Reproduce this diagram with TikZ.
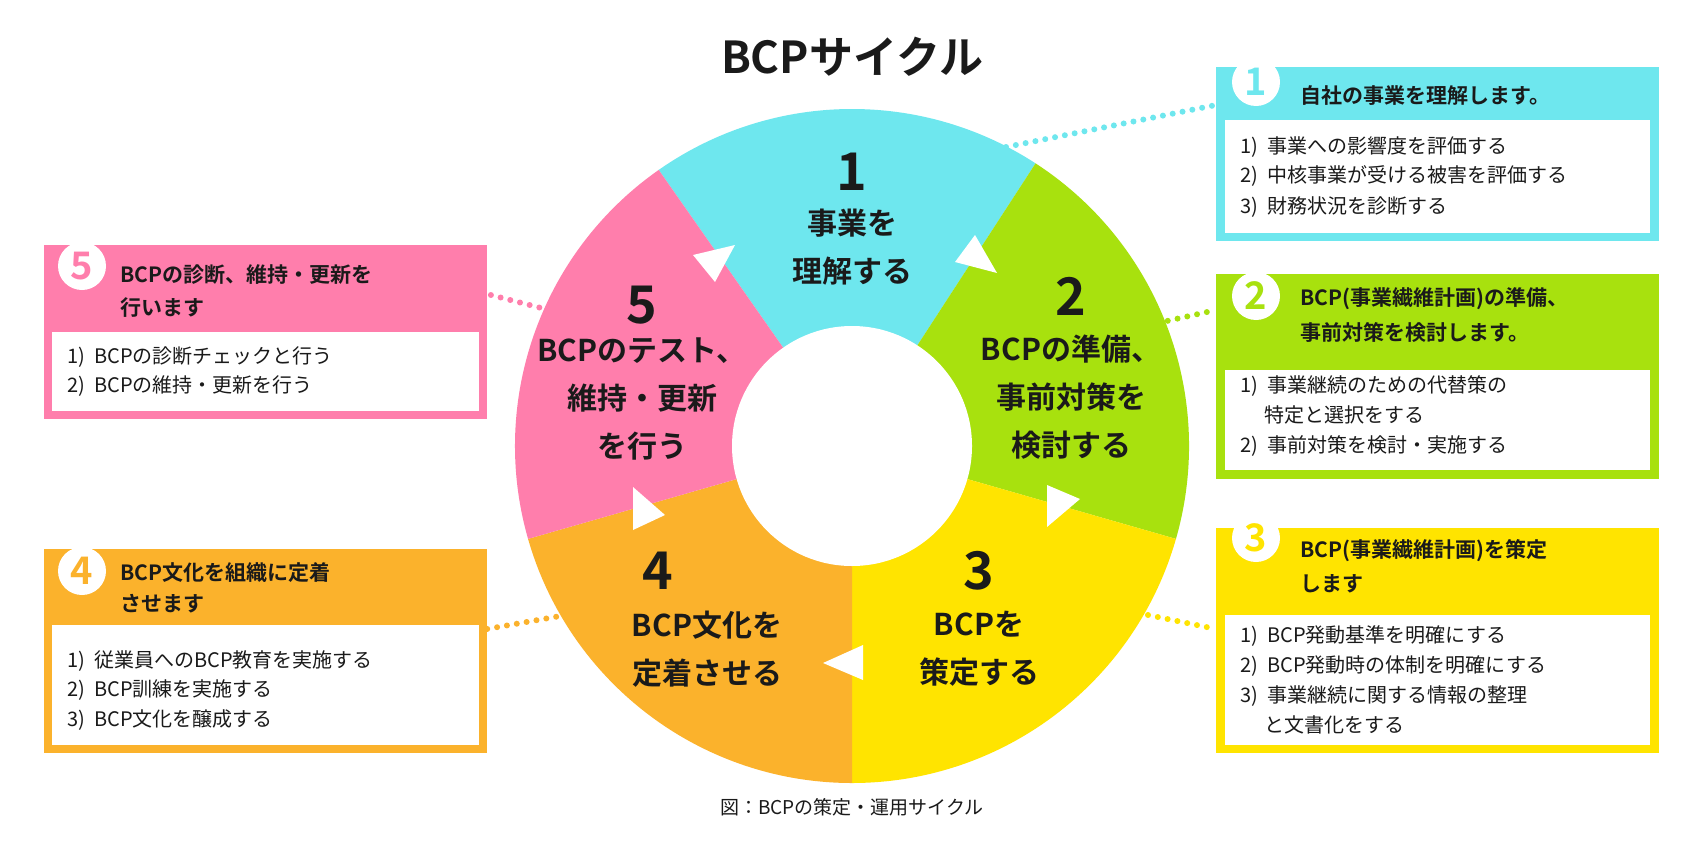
\documentclass[tikz,border=0pt]{standalone}
\usepackage{fontspec}
\setmainfont{Noto Sans CJK JP}[BoldFont={* Bold}]
\definecolor{cA}{HTML}{6EE7EE}
\definecolor{cB}{HTML}{A8E10E}
\definecolor{cC}{HTML}{FFE400}
\definecolor{cD}{HTML}{FBB22C}
\definecolor{cE}{HTML}{FF7EAC}
\definecolor{tx}{HTML}{1A1A1A}
\begin{document}
\begin{tikzpicture}[x=0.5pt,y=-0.5pt,
  seg/.style={font=\fontsize{15}{18}\selectfont\bfseries,text=tx,align=center,inner sep=0},
  num/.style={font=\fontsize{26}{28}\selectfont\bfseries,text=tx,inner sep=0},
  head/.style={font=\fontsize{10.5}{16}\selectfont\bfseries,text=tx,anchor=west,inner sep=0},
  body/.style={font=\fontsize{10}{14}\selectfont,text=tx,anchor=west,inner sep=0},
  badge/.style={circle,fill=white,minimum size=24pt,inner sep=0,font=\fontsize{19}{20}\selectfont\bfseries},
  dotl/.style={line width=3pt,dash pattern=on 0pt off 5pt,line cap=round}]
\useasboundingbox (0,0) rectangle (1700,840);
\fill[white] (0,0) rectangle (1700,840);
\node[font=\fontsize{22}{24}\selectfont\bfseries,text=tx] (title) at (852,57) {BCPサイクル};
\begin{scope}[shift={(852,446)},yscale=-1]
\fill[cA] (0,0) -- (57:337) arc[start angle=57,end angle=125,radius=337] -- cycle;
\fill[cB] (0,0) -- (-16:337) arc[start angle=-16,end angle=57,radius=337] -- cycle;
\fill[cC] (0,0) -- (-90:337) arc[start angle=-90,end angle=-16,radius=337] -- cycle;
\fill[cD] (0,0) -- (196:337) arc[start angle=196,end angle=270,radius=337] -- cycle;
\fill[cE] (0,0) -- (125:337) arc[start angle=125,end angle=196,radius=337] -- cycle;
\fill[white] (0,0) circle[radius=120];
\end{scope}
% arrows
\fill[white] (975,235) -- (955,262) -- (997,273) -- cycle;
\fill[white] (1047,485) -- (1080,499) -- (1047,527) -- cycle;
\fill[white] (863,645) -- (823,663) -- (863,680) -- cycle;
\fill[white] (633,487) -- (665,515) -- (633,530) -- cycle;
\fill[white] (735,245) -- (693,255) -- (715,282) -- cycle;
% segment labels
\node[num] (n1) at (852,172) {1};
\node[seg] (s1) at (852,247) {事業を\\[6pt]理解する};
\node[num] (n2) at (1071,296) {2};
\node[seg] (s2) at (1071,397) {BCPの準備、\\[6pt]事前対策を\\[6pt]検討する};
\node[num] (n3) at (979,571) {3};
\node[seg] (s3) at (979,649) {BCPを\\[6pt]策定する};
\node[num] (n4) at (658,571) {4};
\node[seg] (s4) at (707,649) {BCP文化を\\[6pt]定着させる};
\node[num] (n5) at (642,305) {5};
\node[seg] (s5) at (642,399) {BCPのテスト、\\[6pt]維持・更新\\[6pt]を行う};
% boxes
\fill[cA] (1216,67) rectangle (1659,241); \fill[white] (1225,120) rectangle (1650,233);
\fill[cB] (1216,274) rectangle (1659,479); \fill[white] (1225,370) rectangle (1650,470);
\fill[cC] (1216,528) rectangle (1659,753); \fill[white] (1225,615) rectangle (1650,745);
\fill[cE] (44,245) rectangle (487,419); \fill[white] (52,332) rectangle (479,411);
\fill[cD] (44,549) rectangle (487,753); \fill[white] (52,625) rectangle (479,745);
\node[badge,text=cA] (b1) at (1256,82) {1};
\node[badge,text=cB] (b2) at (1256,296) {2};
\node[badge,text=cC] (b3) at (1256,538) {3};
\node[badge,text=cE] (b5) at (82,266) {5};
\node[badge,text=cD] (b4) at (82,571) {4};
\node[head] (h1) at (1300,96) {自社の事業を理解します。};
\node[head] (h2a) at (1300,299) {BCP(事業繊維計画)の準備、};
\node[head] (h2b) at (1300,332) {事前対策を検討します。};
\node[head] (h3a) at (1300,551) {BCP(事業繊維計画)を策定};
\node[head] (h3b) at (1300,584) {します};
\node[head] (h5a) at (120,275) {BCPの診断、維持・更新を};
\node[head] (h5b) at (120,308) {行います};
\node[head] (h4a) at (120,573) {BCP文化を組織に定着};
\node[head] (h4b) at (120,604) {させます};
\node[body] at (1240,147) {1)\ \ 事業への影響度を評価する};
\node[body] at (1240,176) {2)\ \ 中核事業が受ける被害を評価する};
\node[body] at (1240,207) {3)\ \ 財務状況を診断する};
\node[body] at (1240,386) {1)\ \ 事業継続のための代替策の};
\node[body] at (1264,415) {特定と選択をする};
\node[body] at (1240,446) {2)\ \ 事前対策を検討・実施する};
\node[body] at (1240,636) {1)\ \ BCP発動基準を明確にする};
\node[body] at (1240,666) {2)\ \ BCP発動時の体制を明確にする};
\node[body] at (1240,696) {3)\ \ 事業継続に関する情報の整理};
\node[body] at (1264,725) {と文書化をする};
\node[body] at (67,357) {1)\ \ BCPの診断チェックと行う};
\node[body] at (67,386) {2)\ \ BCPの維持・更新を行う};
\node[body] at (67,661) {1)\ \ 従業員へのBCP教育を実施する};
\node[body] at (67,690) {2)\ \ BCP訓練を実施する};
\node[body] at (67,720) {3)\ \ BCP文化を醸成する};
% connectors
\coordinate (p1) at (1006,147); \coordinate (q1) at (1216,105);
\coordinate (p2) at (1158,323); \coordinate (q2) at (1216,310);
\coordinate (p3) at (1148,615); \coordinate (q3) at (1216,629);
\coordinate (p5) at (549,310); \coordinate (q5) at (487,294);
\coordinate (p4) at (566,615); \coordinate (q4) at (487,629);
\draw[dotl,cA] (p1) -- (q1);
\draw[dotl,cB] (p2) -- (q2);
\draw[dotl,cC] (p3) -- (q3);
\draw[dotl,cE] (p5) -- (q5);
\draw[dotl,cD] (p4) -- (q4);
\node[font=\fontsize{9.5}{12}\selectfont,text=tx] (cap) at (852,807) {図：BCPの策定・運用サイクル};
\end{tikzpicture}
\end{document}
